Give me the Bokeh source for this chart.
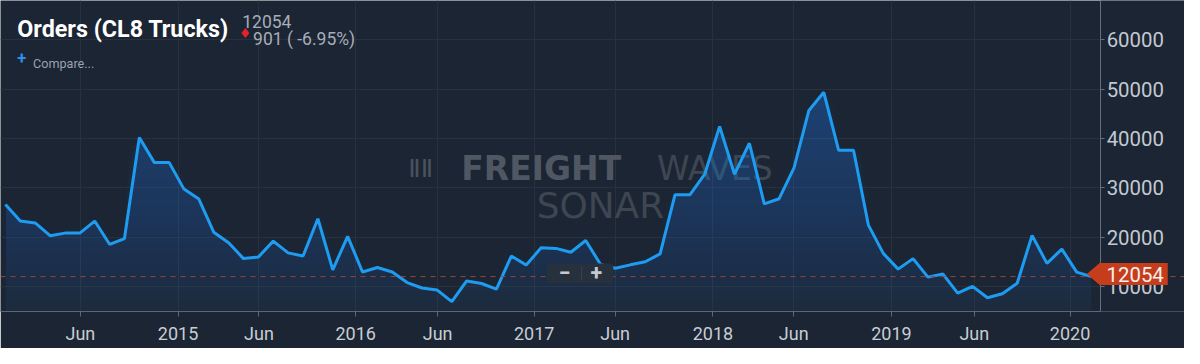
import numpy as np
from bokeh.plotting import figure
from bokeh.models import Range1d, FixedTicker, Span, Label, BoxAnnotation, PolyAnnotation
from bokeh.embed import file_html
from bokeh.resources import INLINE

# ---------------- data ----------------
orders = [26650, 23290, 22900, 20330, 20850, 20850, 23290, 18590, 19750, 40190,
          35160, 35160, 29750, 27740, 21040, 18920, 15690, 16020, 19230, 16850,
          16210, 23750, 13420, 20190, 12980, 13890, 12980, 10850, 9750, 9360,
          6980, 11180, 10660, 9500, 16210, 14390, 17870, 17760, 16980, 19360,
          14500, 13750, 14430, 15050, 16650, 28590, 28590, 32770, 42440, 32770,
          39030, 26770, 27810, 34060, 45670, 49340, 37600, 37600, 22460, 16750,
          13560, 15690, 11950, 12590, 8720, 10080, 7760, 8590, 10720, 20390,
          14720, 17620, 12955, 12054]
tick_labels = ["Jun", "2015", "Jun", "2016", "Jun", "2017",
               "Jun", "2018", "Jun", "2019", "Jun", "2020"]
tick_pos = [5.04, 11.6, 17.04, 23.54, 29.05, 35.54, 40.98, 47.55, 52.98, 59.55, 65.12, 71.55]
y_ticks = [10000, 20000, 30000, 40000, 50000, 60000]

title = "Orders (CL8 Trucks)"
last = orders[-1]
prev = orders[-2]
chg = prev - last
pct = (last - prev) / prev * 100

# ---------------- layout helpers (reference pixel -> data) ----------------
BG = "#1c2533"
W, H = 1184, 348
SX, SY = W / 1200, H / 364
FS = (SX + SY) / 2
FRAME_H = 311
PX_PER_PT = 15.08
X_OFF_PX = 5.0
PX_PER_UNIT = 5.17 / 1000
Y10K_PX = 299.4


def dx(px):
    return (px - X_OFF_PX) / PX_PER_PT


def dy(py):
    return 10000 + (Y10K_PX - py) / PX_PER_UNIT


def fs(size):
    return f"{size * FS:.1f}px"


X0, X1 = dx(0), dx(1200)
Y1, Y0 = dy(0), dy(FRAME_H / SY)
AXIS_X = dx(1115)

p = figure(width=W, height=H, x_range=Range1d(X0, X1), y_range=Range1d(Y0, Y1),
           y_axis_location="right", output_backend="svg", toolbar_location=None,
           min_border_left=0, min_border_top=0, min_border_right=0,
           min_border_bottom=H - FRAME_H, background_fill_color=BG,
           border_fill_color=BG, outline_line_color=None)

# axes
yax = p.yaxis[0]
yax.fixed_location = AXIS_X
yax.bounds = (Y0, Y1)
yax.ticker = FixedTicker(ticks=y_ticks)
yax.axis_line_color = "#66707c"
yax.major_tick_line_color = "#66707c"
yax.major_tick_out = 4
yax.major_tick_in = 0
yax.minor_tick_line_color = None
yax.major_label_text_font = "Roboto"
yax.major_label_text_font_size = fs(21)
yax.major_label_text_color = "#c3c9d1"
yax.major_label_standoff = 2

xax = p.xaxis[0]
xax.bounds = (X0, AXIS_X)
xax.ticker = FixedTicker(ticks=tick_pos)
xax.major_label_overrides = {t: l for t, l in zip(tick_pos, tick_labels)}
xax.axis_line_color = "#5d6774"
xax.major_tick_line_color = "#5d6774"
xax.major_tick_out = 5
xax.major_tick_in = 0
xax.minor_tick_line_color = None
xax.major_label_text_font = "Roboto"
xax.major_label_text_font_size = fs(18.5)
xax.major_label_text_color = "#c8cdd5"
xax.major_label_standoff = 6

p.ygrid.grid_line_color = "#28313e"
p.xgrid.grid_line_color = "#28313e"

# hide grid to the right of the value axis
p.add_layout(BoxAnnotation(left=AXIS_X, right=X1, top=Y1, bottom=Y0, fill_color=BG,
                           fill_alpha=1.0, line_color=None, level="underlay"))

# watermark (under the series)
wm = dict(text_baseline="alphabetic", text_align="center", level="underlay")
p.add_layout(Label(x=dx(548), y=dy(176), text="FREIGHT", text_font="DejaVu Sans",
                   text_font_style="bold", text_font_size=fs(34), text_color="#4f5762", **wm))
p.add_layout(Label(x=dx(724), y=dy(176), text="WAVES", text_font="DejaVu Sans",
                   text_font_size=fs(34), text_color="#3e4652", **wm))
p.add_layout(Label(x=dx(608), y=dy(214), text="SONAR", text_font="DejaVu Sans",
                   text_font_size=fs(37), text_color="#3e4652", **wm))
p.add_layout(Label(x=dx(426), y=dy(176), text="\u2161\u2161", text_font="DejaVu Sans",
                   text_font_size=fs(26), text_color="#4a525d", **wm))

# area with vertical gradient emulated by stacked translucent layers
x = np.arange(len(orders))
vals = np.array(orders, dtype=float)
blue = "#1e7be0"
p.varea(x=x, y1=Y0, y2=vals, fill_color=blue, fill_alpha=0.05)
levels = np.linspace(Y0, vals.max(), 24)
for lv in levels:
    p.varea(x=x, y1=lv, y2=np.maximum(vals, lv), fill_color=blue, fill_alpha=0.023)

p.line(x, vals, line_color="#1e9cf2", line_width=3)

# last value dashed line
p.add_layout(Span(location=last, dimension="width", line_color="#9a4638",
                  line_dash="5 5", line_width=1))

# zoom buttons
p.add_layout(BoxAnnotation(left=dx(554), right=dx(621), top=dy(275), bottom=dy(296),
                           fill_color="#27313d", fill_alpha=1.0, line_color=None,
                           border_radius=3))
p.add_layout(BoxAnnotation(left=dx(588.5), right=dx(589.5), top=dy(278), bottom=dy(293),
                           fill_color="#3a4350", fill_alpha=1.0, line_color=None))
btn = dict(text_align="center", text_baseline="middle", text_font="Roboto",
           text_font_style="bold", text_font_size=fs(22), text_color="#c4c9d0")
p.add_layout(Label(x=dx(571.5), y=dy(284), text="\u2212", **btn))
p.add_layout(Label(x=dx(604), y=dy(284), text="+", **btn))

# last value tag on the right
p.add_layout(PolyAnnotation(xs=[dx(1101), dx(1114), dx(1183), dx(1183), dx(1114)],
                            ys=[dy(286), dy(274.5), dy(274.5), dy(297.5), dy(297.5)],
                            fill_color="#c63d1c", fill_alpha=1.0, line_color=None))
p.add_layout(Label(x=dx(1150), y=dy(286.5), text=f"{last}", text_align="center",
                   text_baseline="middle", text_font="Roboto", text_font_size=fs(21),
                   text_color="#f6f1ee"))

# header texts
p.add_layout(Label(x=dx(17), y=dy(29.5), text=title, text_font="Roboto",
                   text_font_style="bold", text_font_size=fs(24), text_color="#ffffff",
                   text_baseline="alphabetic"))
p.add_layout(Label(x=dx(245), y=dy(21.5), text=f"{last}", text_font="Roboto",
                   text_font_size=fs(18), text_color="#a6aeb8", text_baseline="alphabetic"))
p.add_layout(Label(x=dx(248), y=dy(33.5), text="\u2666", text_font="DejaVu Sans",
                   text_font_size=fs(14), text_color="#e8202a", text_align="center",
                   text_baseline="middle"))
p.add_layout(Label(x=dx(256), y=dy(40), text=f"{chg} ( {pct:.2f}%)", text_font="Roboto",
                   text_font_size=fs(18), text_color="#a6aeb8", text_baseline="alphabetic"))
p.add_layout(Label(x=dx(21.5), y=dy(60), text="+", text_font="Roboto",
                   text_font_style="bold", text_font_size=fs(17), text_color="#2f8fe8",
                   text_align="center", text_baseline="middle"))
p.add_layout(Label(x=dx(33), y=dy(66), text="Compare...", text_font="Roboto",
                   text_font_size=fs(13), text_color="#9aa3ad", text_baseline="alphabetic"))

open("out.html", "w").write(file_html(p, INLINE))
